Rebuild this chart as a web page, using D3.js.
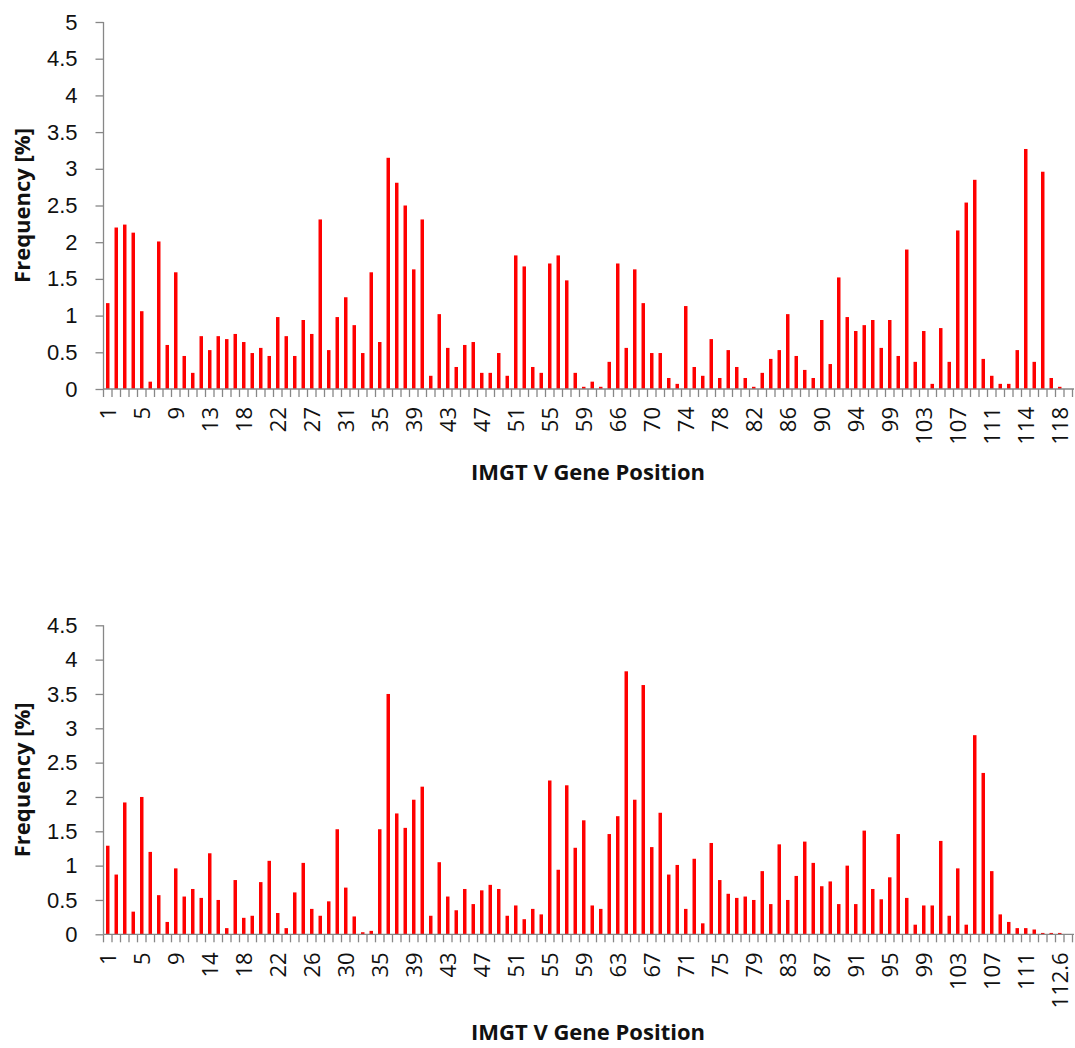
<!DOCTYPE html>
<html>
<head>
<meta charset="utf-8">
<script src="https://cdn.jsdelivr.net/npm/d3@7"></script>
<style>
  body { margin: 0; background: #fff; }
  svg { display: block; font-family: "Open Sans", "Liberation Sans", sans-serif; }
</style>
</head>
<body>
<svg id="viz" width="1075" height="1048"></svg>
<script>
// top panel: positions and frequencies
var topPositions = ["1","2","3","4","5","6","7","8","9","10","11","12","13","14","15","16",
  "18","19","20","21","22","23","24","25","27","28","29","30","31","32","33","34",
  "35","36","37","38","39","40","41","42","43","44","45","46","47","48","49","50",
  "51","52","53","54","55","56","57","58","59","60","61","62","66","67","68","69",
  "70","71","72","73","74","75","76","77","78","79","80","81","82","83","84","85",
  "86","87","88","89","90","91","92","93","94","95","96","97","99","100","101","102",
  "103","104","105","106","107","108","109","110","111","111.1","112","113","114","115","116","117",
  "118","119"];
var topValues = [1.17, 2.20, 2.24, 2.13, 1.06, 0.10, 2.01, 0.60, 1.59, 0.45, 0.22, 0.72, 0.53, 0.72, 0.68, 0.75,
  0.64, 0.49, 0.56, 0.45, 0.98, 0.72, 0.45, 0.94, 0.75, 2.31, 0.53, 0.98, 1.25, 0.87, 0.49, 1.59,
  0.64, 3.15, 2.81, 2.50, 1.63, 2.31, 0.18, 1.02, 0.56, 0.30, 0.60, 0.64, 0.22, 0.22, 0.49, 0.18,
  1.82, 1.67, 0.30, 0.22, 1.71, 1.82, 1.48, 0.22, 0.03, 0.10, 0.03, 0.37, 1.71, 0.56, 1.63, 1.17,
  0.49, 0.49, 0.15, 0.07, 1.13, 0.30, 0.18, 0.68, 0.15, 0.53, 0.30, 0.15, 0.03, 0.22, 0.41, 0.53,
  1.02, 0.45, 0.26, 0.15, 0.94, 0.34, 1.52, 0.98, 0.79, 0.87, 0.94, 0.56, 0.94, 0.45, 1.90, 0.37,
  0.79, 0.07, 0.83, 0.37, 2.16, 2.54, 2.85, 0.41, 0.18, 0.07, 0.07, 0.53, 3.27, 0.37, 2.96, 0.15,
  0.03, 0];
var topTicks = [0, 0.5, 1, 1.5, 2, 2.5, 3, 3.5, 4, 4.5, 5];

// bottom panel
var bottomPositions = ["1","2","3","4","5","6","7","8","9","11","12","13","14","15","16","17",
  "18","19","20","21","22","23","24","25","26","27","28","29","30","31","32","34",
  "35","36","37","38","39","40","41","42","43","44","45","46","47","48","49","50",
  "51","52","53","54","55","56","57","58","59","60","61","62","63","64","65","66",
  "67","68","69","70","71","72","73","74","75","76","77","78","79","80","81","82",
  "83","84","85","86","87","88","89","90","91","92","93","94","95","96","97","98",
  "99","100","101","102","103","104","105","106","107","108","109","110","111","111.1","112.2","112.4",
  "112.6","112.8"];
var bottomValues = [1.29, 0.87, 1.92, 0.33, 2.00, 1.20, 0.57, 0.18, 0.96, 0.55, 0.66, 0.53, 1.18, 0.50, 0.09, 0.79,
  0.24, 0.27, 0.76, 1.07, 0.31, 0.09, 0.61, 1.04, 0.37, 0.27, 0.48, 1.53, 0.68, 0.26, 0.03, 0.05,
  1.53, 3.50, 1.76, 1.55, 1.96, 2.15, 0.27, 1.05, 0.55, 0.35, 0.66, 0.44, 0.64, 0.72, 0.66, 0.27,
  0.42, 0.22, 0.37, 0.29, 2.24, 0.94, 2.17, 1.26, 1.66, 0.42, 0.37, 1.46, 1.72, 3.83, 1.96, 3.63,
  1.27, 1.77, 0.87, 1.01, 0.37, 1.10, 0.16, 1.33, 0.79, 0.59, 0.53, 0.55, 0.50, 0.92, 0.44, 1.31,
  0.50, 0.85, 1.35, 1.04, 0.70, 0.77, 0.44, 1.00, 0.44, 1.51, 0.66, 0.51, 0.83, 1.46, 0.53, 0.14,
  0.42, 0.42, 1.36, 0.27, 0.96, 0.14, 2.90, 2.35, 0.92, 0.29, 0.18, 0.09, 0.09, 0.07, 0.02, 0.02,
  0.02, 0];
var bottomTicks = [0, 0.5, 1, 1.5, 2, 2.5, 3, 3.5, 4, 4.5];

var AXIS_COLOR = "#878787";
var BAR_COLOR = "#ff0000";

var svg = d3.select("#viz");

function drawPanel(positions, values, ticks, top, bottom, titleGap) {
    var x = d3.scaleBand().domain(positions).range([103.5, 1072.5]).padding(0);
    var y = d3.scaleLinear().domain([0, d3.max(ticks)]).range([bottom, top]);
    var g = svg.append("g");
    var barW = x.bandwidth() * 0.41;

    g.selectAll("rect.bar").data(positions).enter().append("rect")
        .attr("class", "bar")
        .attr("x", function (d) { return x(d) + (x.bandwidth() - barW) / 2; })
        .attr("y", function (d, i) { return y(values[i]); })
        .attr("width", barW)
        .attr("height", function (d, i) { return bottom - y(values[i]); })
        .attr("fill", BAR_COLOR);

    // y axis
    var yAxis = g.append("g").attr("transform", "translate(103.5,0)")
        .call(d3.axisLeft(y).tickValues(ticks).tickSize(8).tickPadding(18).tickFormat(d3.format("")));
    yAxis.select(".domain").attr("stroke", AXIS_COLOR).attr("stroke-width", 1.3).attr("d", "M0," + top + "V" + bottom);
    yAxis.selectAll(".tick line").attr("stroke", AXIS_COLOR).attr("stroke-width", 1.3);
    yAxis.selectAll(".tick text").attr("font-size", 22).attr("fill", "#111").attr("font-family", null);

    // x axis: ticks sit on category boundaries
    var bounds = positions.map(function (p) { return x(p); }).concat([x.range()[1]]);
    g.append("line").attr("x1", 103.5).attr("x2", 1074).attr("y1", bottom).attr("y2", bottom)
        .attr("stroke", AXIS_COLOR).attr("stroke-width", 1.3);
    g.selectAll("line.xt").data(bounds).enter().append("line")
        .attr("class", "xt")
        .attr("x1", function (d) { return d; }).attr("x2", function (d) { return d; })
        .attr("y1", bottom).attr("y2", bottom + 8)
        .attr("stroke", AXIS_COLOR).attr("stroke-width", 1.3);

    g.selectAll("text.xl").data(positions.filter(function (p, i) { return i % 4 === 0; }))
        .enter().append("text")
        .attr("class", "xl")
        .attr("transform", function (d) {
            return "translate(" + (x(d) + x.bandwidth() / 2) + "," + (bottom + 18) + ") rotate(-90)";
        })
        .attr("dy", "0.36em")
        .attr("text-anchor", "end")
        .attr("font-size", 22)
        .attr("fill", "#111")
        .text(function (d) { return d; });

    g.append("text")
        .attr("transform", "translate(22," + ((top + bottom) / 2) + ") rotate(-90)")
        .attr("dy", "0.36em")
        .attr("text-anchor", "middle")
        .attr("font-size", 22)
        .attr("font-weight", "bold")
        .attr("fill", "#111")
        .text("Frequency [%]");

    g.append("text")
        .attr("x", 588)
        .attr("y", bottom + titleGap)
        .attr("text-anchor", "middle")
        .attr("font-size", 22)
        .attr("font-weight", "bold")
        .attr("fill", "#111")
        .text("IMGT V Gene Position");
}

drawPanel(topPositions, topValues, topTicks, 22, 389, 91);
drawPanel(bottomPositions, bottomValues, bottomTicks, 625.3, 934.3, 106);
</script>
</body>
</html>
